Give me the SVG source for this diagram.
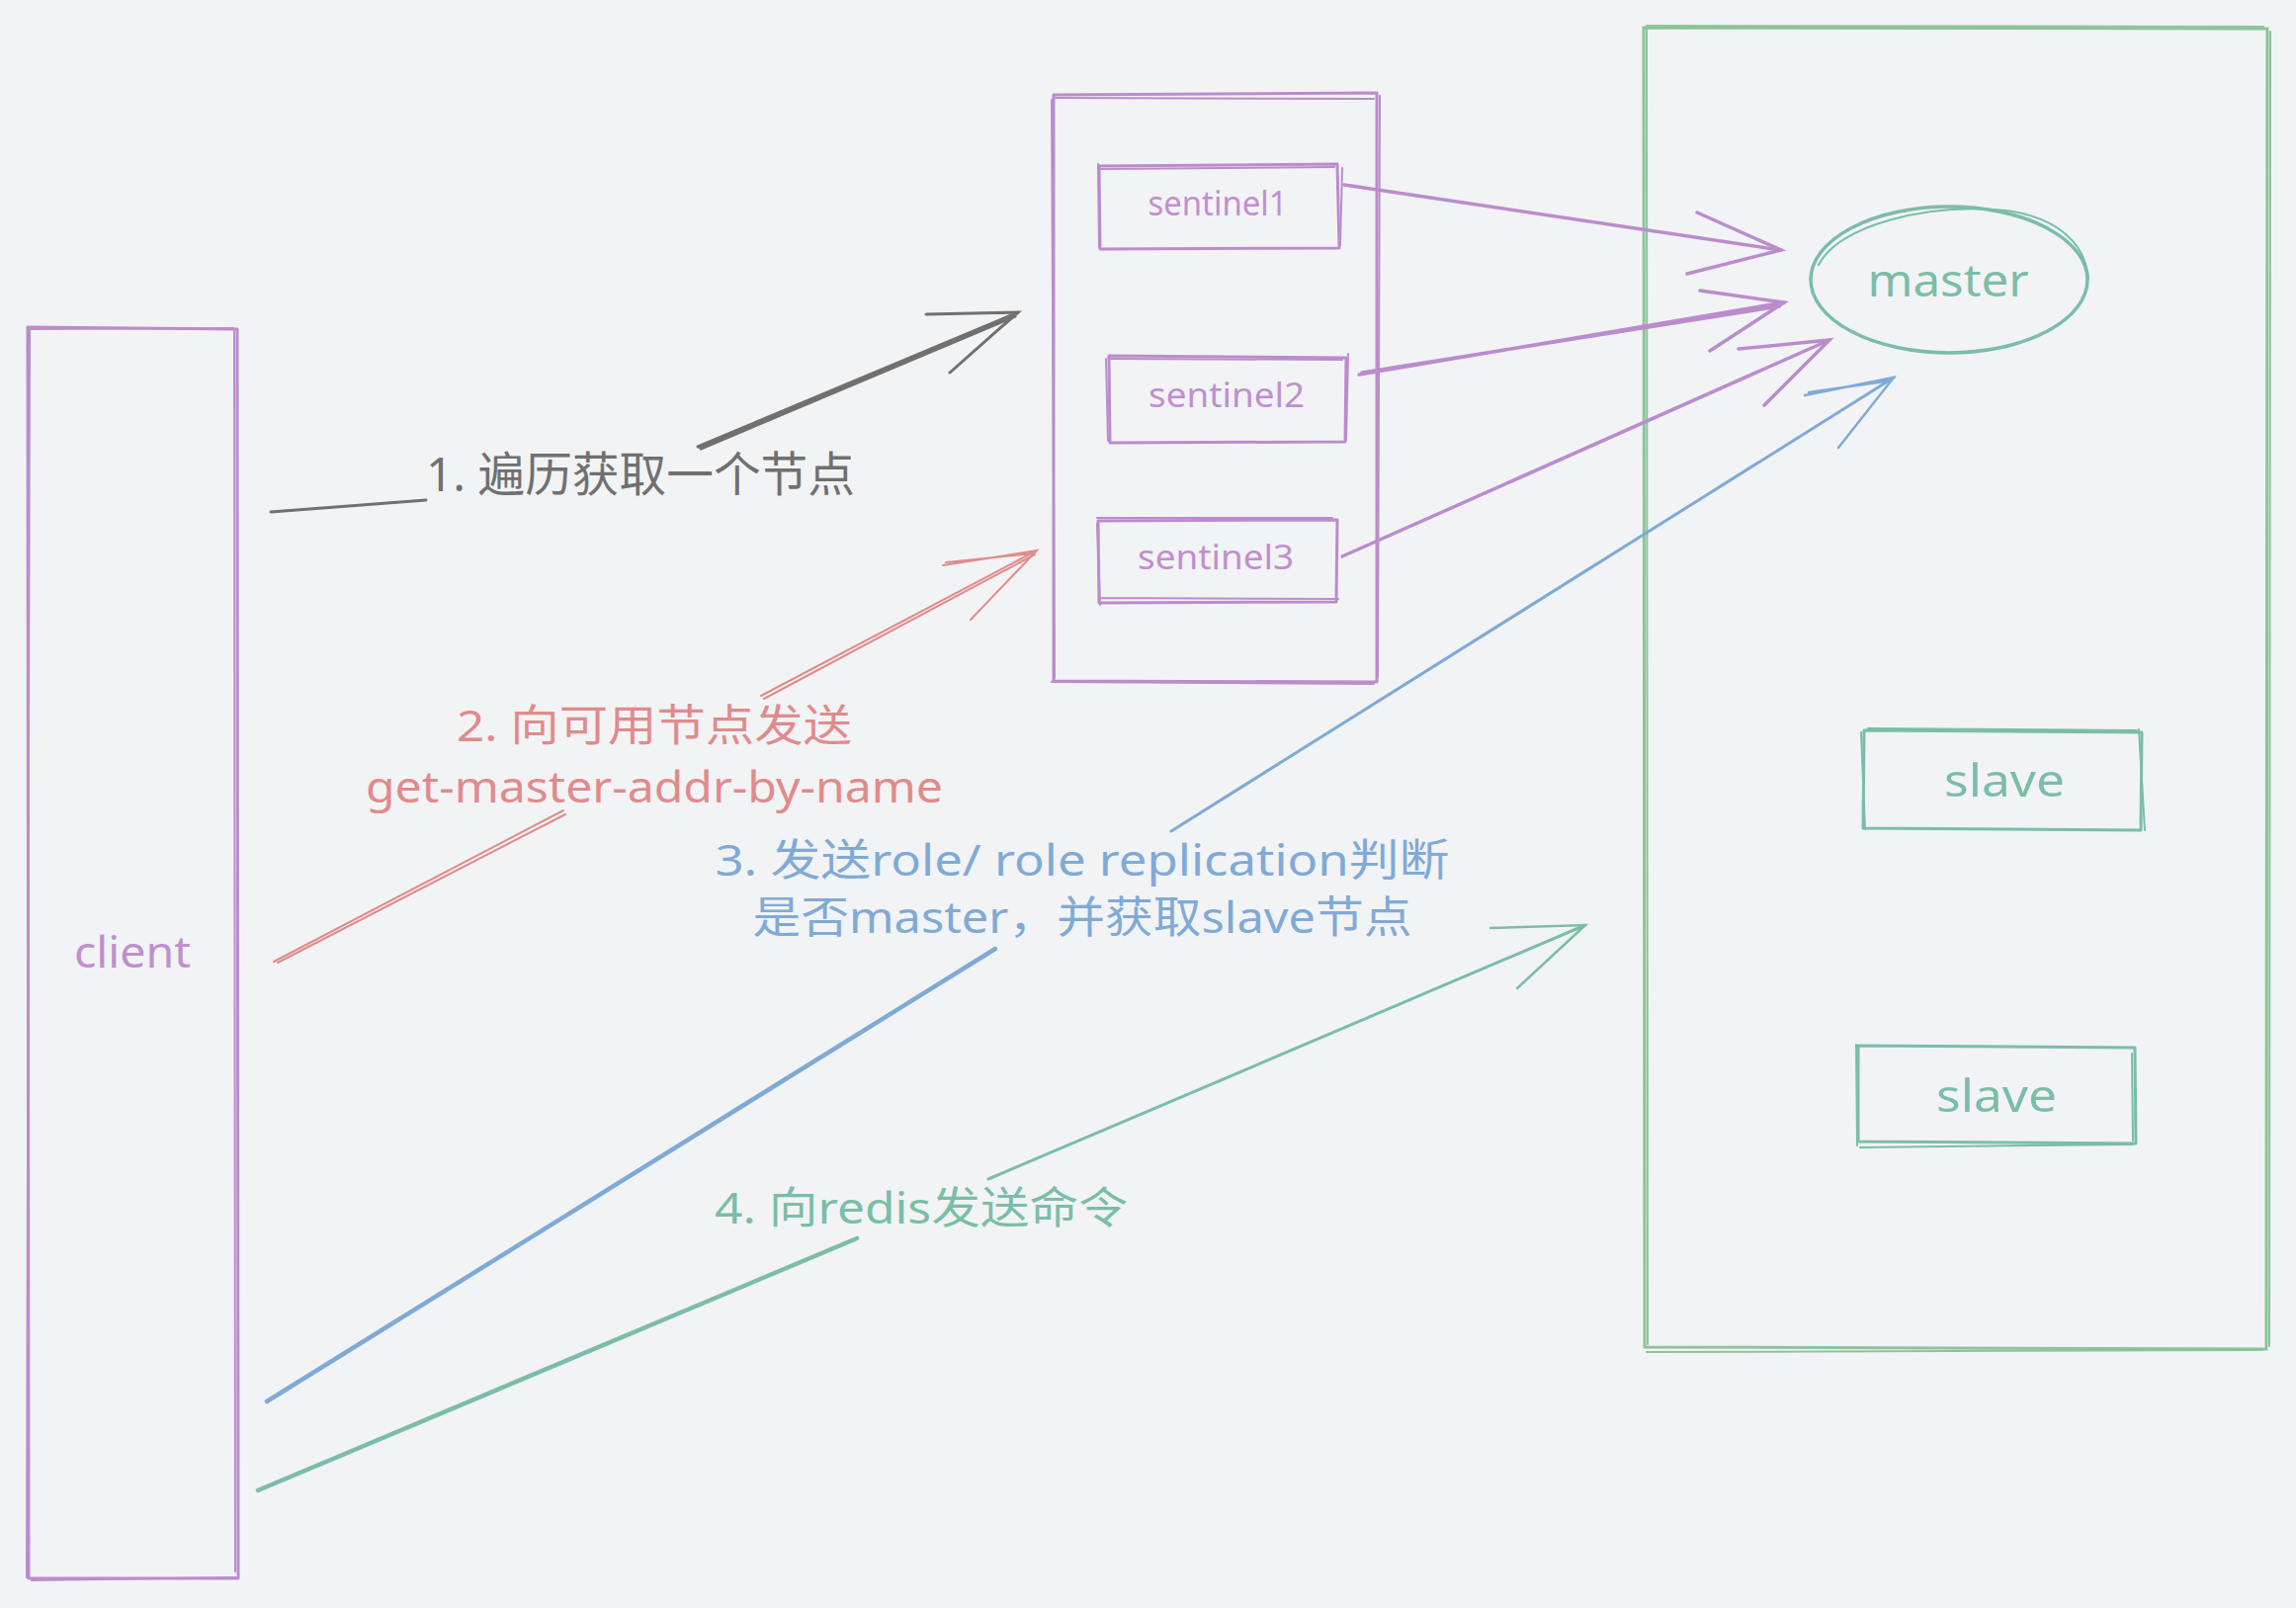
<svg xmlns="http://www.w3.org/2000/svg" width="2323" height="1627" viewBox="0 0 2323 1627">
<style>
.bg{fill:#f2f3f5}
.pu{fill:none;stroke:#bb8ccd;stroke-linecap:round;stroke-linejoin:round}
.gr{fill:none;stroke:#8cc49a;stroke-linecap:round}
.te{fill:none;stroke:#7bbda7;stroke-linecap:round;stroke-linejoin:round}
.lbl{font-family:"Noto Sans","Noto Sans CJK SC",sans-serif}
.tp{fill:#c08fcf}
.tt{fill:#7bbda7}
.ag{fill:none;stroke:#707070;stroke-width:3;stroke-linecap:round}
.ar{fill:none;stroke:#e08b8b;stroke-width:2;stroke-linecap:round}
.ab{fill:none;stroke:#80aad6;stroke-linecap:round}
.at{fill:none;stroke:#7bbda7;stroke-linecap:round}
.ap{fill:none;stroke:#bb8ccd;stroke-width:3.5;stroke-linecap:round}
</style>
<rect class="bg" x="0" y="0" width="2323" height="1627"/>

<g id="client">
<path class="pu" stroke-width="3" d="M28,331 L240,333 L241,1597 L29,1597 Z"/>
<path class="pu" stroke-width="2" d="M30,333 L236,332 M237,335 L238,1590 M32,1599 L238,1596 M27,1596 L30,334"/>
<text class="lbl tp" x="134" y="979" font-size="44" text-anchor="middle" textLength="118" lengthAdjust="spacingAndGlyphs">client</text>
</g>

<g id="sentinel-group">
<path class="pu" stroke-width="3" d="M1066,96 L1393,94 L1393,690 L1066,689 Z"/>
<path class="pu" stroke-width="2" d="M1068,99 L1390,100 M1396,97 L1394,685 M1064,690 L1390,692 M1064,101 L1067,686"/>
</g>

<g id="sentinel1">
<path class="pu" stroke-width="3" d="M1112,168 L1353,166 L1355,251 L1113,252 Z"/>
<path class="pu" stroke-width="2" d="M1114,171 L1350,169 M1358,170 L1356,248 M1111,166 L1112,250"/>
<text class="lbl tp" x="1232" y="218" font-size="35" text-anchor="middle" textLength="141" lengthAdjust="spacingAndGlyphs">sentinel1</text>
</g>

<g id="sentinel2">
<path class="pu" stroke-width="3" d="M1122,360 L1362,362 L1361,447 L1123,448 Z"/>
<path class="pu" stroke-width="2" d="M1124,363 L1358,364 M1364,358 L1362,445 M1119,363 L1121,446"/>
<text class="lbl tp" x="1241" y="412" font-size="35" text-anchor="middle" textLength="158" lengthAdjust="spacingAndGlyphs">sentinel2</text>
</g>

<g id="sentinel3">
<path class="pu" stroke-width="3" d="M1111,527 L1353,526 L1352,609 L1112,610 Z"/>
<path class="pu" stroke-width="2" d="M1110,524 L1348,524 M1113,605 L1354,606 M1110,530 L1113,612"/>
<text class="lbl tp" x="1230" y="576" font-size="35" text-anchor="middle" textLength="158" lengthAdjust="spacingAndGlyphs">sentinel3</text>
</g>

<g id="redis-group">
<path class="gr" stroke-width="3" d="M1663,28 L2294,29 L2293,1365 L1664,1363 Z"/>
<path class="gr" stroke-width="2" d="M1666,26 L2290,27 M2297,32 L2296,1362 M1666,1368 L2289,1366 M1666,30 L1667,1360"/>
</g>

<g id="master">
<ellipse class="te" stroke-width="3.5" cx="1972" cy="283" rx="140" ry="74"/>
<path class="te" stroke-width="2" d="M1840,268 C1860,228 1950,205 2030,213 C2080,220 2110,245 2113,282"/>
<text class="lbl tt" x="1971" y="300" font-size="46" text-anchor="middle" textLength="163" lengthAdjust="spacingAndGlyphs">master</text>
</g>

<g id="slave1">
<path class="te" stroke-width="3" d="M1886,739 L2167,741 L2166,840 L1885,838 Z"/>
<path class="te" stroke-width="2" d="M1883,741 L1887,839 M2164,738 L2170,840 M1890,737 L2162,739"/>
<text class="lbl tt" x="2028" y="806" font-size="46" text-anchor="middle" textLength="122" lengthAdjust="spacingAndGlyphs">slave</text>
</g>

<g id="slave2">
<path class="te" stroke-width="3" d="M1880,1058 L2160,1060 L2161,1157 L1880,1155 Z"/>
<path class="te" stroke-width="2" d="M1878,1057 L1879,1159 M2157,1066 L2158,1154 M1882,1161 L2158,1158"/>
<text class="lbl tt" x="2020" y="1125" font-size="46" text-anchor="middle" textLength="122" lengthAdjust="spacingAndGlyphs">slave</text>
</g>

<g id="connectors">
<path class="ag" d="M274,518 L431,506 M706,452 L1030,316 M709,454 L1027,320"/>
<path class="ag" d="M937,318 L1030,316 L961,377"/>
<text class="lbl" x="648" y="497" font-size="48" fill="#707070" text-anchor="middle" textLength="434" lengthAdjust="spacingAndGlyphs">1. 遍历获取一个节点</text>

<path class="ar" d="M277,973 L570,820 M281,974 L572,824 M770,704 L1049,557 M773,707 L1047,561"/>
<path class="ar" d="M954,572 L1049,557 L982,627 M957,569 L1046,560"/>
<text class="lbl" x="662" y="750" font-size="44" fill="#e08b8b" text-anchor="middle" textLength="400" lengthAdjust="spacingAndGlyphs">2. 向可用节点发送</text>
<text class="lbl" x="662" y="812" font-size="44" fill="#e08b8b" text-anchor="middle" textLength="584" lengthAdjust="spacingAndGlyphs">get-master-addr-by-name</text>

<path class="ab" stroke-width="4.5" d="M270,1418 L1007,960"/>
<path class="ab" stroke-width="3" d="M1185,841 L1916,382"/>
<path class="ab" stroke-width="2.5" d="M1826,400 L1916,382 L1860,453 M1830,397 L1914,385"/>
<text class="lbl" x="1095" y="886" font-size="44" fill="#80aad6" text-anchor="middle" textLength="743" lengthAdjust="spacingAndGlyphs">3. 发送role/ role replication判断</text>
<text class="lbl" x="1095" y="944" font-size="44" fill="#80aad6" text-anchor="middle" textLength="667" lengthAdjust="spacingAndGlyphs">是否master，并获取slave节点</text>

<path class="at" stroke-width="4.5" d="M261,1508 L867,1253"/>
<path class="at" stroke-width="3" d="M1000,1193 L1604,936"/>
<path class="at" stroke-width="2.5" d="M1508,939 L1604,936 L1535,1000"/>
<text class="lbl" x="932" y="1238" font-size="44" fill="#7bbda7" text-anchor="middle" textLength="418" lengthAdjust="spacingAndGlyphs">4. 向redis发送命令</text>

<path class="ap" d="M1360,187 L1802,253"/>
<path class="ap" stroke-width="2.5" d="M1717,215 L1802,253 L1707,277"/>
<path class="ap" d="M1375,379 L1805,306 M1378,377 L1800,310"/>
<path class="ap" stroke-width="2.5" d="M1720,294 L1805,306 L1730,355"/>
<path class="ap" d="M1358,563 L1851,344"/>
<path class="ap" stroke-width="2.5" d="M1759,353 L1851,344 L1785,410"/>
</g>
</svg>
